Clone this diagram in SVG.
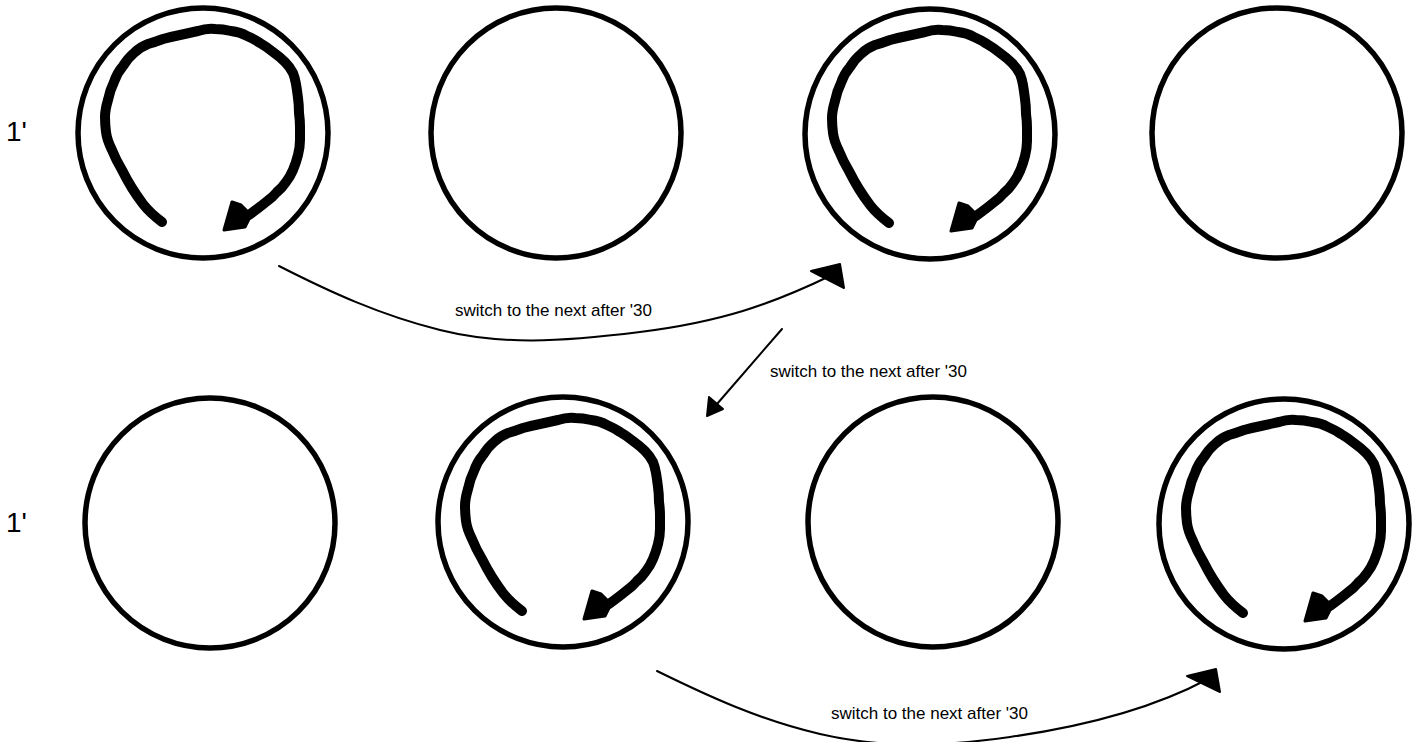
<svg xmlns="http://www.w3.org/2000/svg" xmlns:xlink="http://www.w3.org/1999/xlink" width="1424" height="742" viewBox="0 0 1424 742">
<style>
.ring{fill:none;stroke:#000;stroke-width:5.5}
.swirl{fill:none;stroke:#000;stroke-width:10;stroke-linejoin:round;stroke-linecap:round}
.swirlhead{fill:#000;stroke:#000;stroke-width:3;stroke-linejoin:round}
.conn{fill:none;stroke:#000;stroke-width:2;stroke-linecap:round}
.head{fill:#000;stroke:#000;stroke-width:2;stroke-linejoin:round}
.lbl{font-family:"Liberation Sans",Arial,sans-serif;font-size:17px;fill:#000}
.side{font-family:"Liberation Sans",Arial,sans-serif;font-size:28px;fill:#000}
</style>
<defs>
<g id="arrowSwirl">
<path class="swirl" d="M-41,88 Q-53,79 -60,70 Q-66,62 -71,54 Q-76,46 -81,36 Q-87,26 -91,16 Q-96,6 -97,-2 Q-98,-10 -98,-17 Q-98,-24 -95,-34 Q-93,-44 -89,-52 Q-86,-61 -80,-68 Q-75,-76 -69,-81 Q-63,-87 -55,-90 Q-48,-92 -40,-95 Q-33,-97 -23,-99 Q-14,-101 -5,-103 Q4,-106 12,-105 Q20,-105 28,-103 Q37,-102 44,-98 Q51,-95 57,-91 Q64,-87 70,-82 Q77,-77 82,-72 Q87,-67 90,-61 Q92,-56 93,-50 Q94,-44 95,-36 Q96,-29 96,-21 Q97,-14 97,-7 Q97,0 97,6 Q97,13 95,21 Q93,29 90,36 Q87,43 83,48 Q79,54 74,58 Q70,63 63,68 Q57,73 46,81"/>
<polygon class="swirlhead" points="29,68 38,71 48,81 42,93 21,96"/>
</g>
</defs>
<g id="label-row1"><text class="side" x="6" y="141">1'</text></g>
<g id="label-row2"><text class="side" x="6" y="532">1'</text></g>
<g id="node-1"><circle class="ring" cx="203" cy="133" r="125"/><use xlink:href="#arrowSwirl" href="#arrowSwirl" transform="translate(203,134)"/></g>
<g id="node-2"><circle class="ring" cx="556" cy="133" r="125"/></g>
<g id="node-3"><circle class="ring" cx="930" cy="134" r="125"/><use xlink:href="#arrowSwirl" href="#arrowSwirl" transform="translate(930,135)"/></g>
<g id="node-4"><circle class="ring" cx="1277" cy="133" r="125"/></g>
<g id="node-5"><circle class="ring" cx="210" cy="523" r="125"/></g>
<g id="node-6"><circle class="ring" cx="563" cy="522" r="125"/><use xlink:href="#arrowSwirl" href="#arrowSwirl" transform="translate(563,523)"/></g>
<g id="node-7"><circle class="ring" cx="933" cy="522" r="125"/></g>
<g id="node-8"><circle class="ring" cx="1284" cy="524" r="125"/><use xlink:href="#arrowSwirl" href="#arrowSwirl" transform="translate(1284,525)"/></g>
<g id="connectors">
<path class="conn" d="M279,266 C330,292 380,315 440,330 S560,342 640,332 S770,305 832,275"/>
<polygon class="head" points="811,271 840,264 844,288"/>
<path class="conn" d="M782,329 L717,404"/>
<polygon class="head" points="709,397 707,416 723,409"/>
<path class="conn" d="M657,671 C710,697 760,720 820,734 S940,747 1010,737 S1150,710 1208,679"/>
<polygon class="head" points="1187,676 1216,669 1220,692"/>
<text class="lbl" x="455" y="316">switch to the next after '30</text>
<text class="lbl" x="770" y="377">switch to the next after '30</text>
<text class="lbl" x="831" y="719">switch to the next after '30</text>
</g>
</svg>
